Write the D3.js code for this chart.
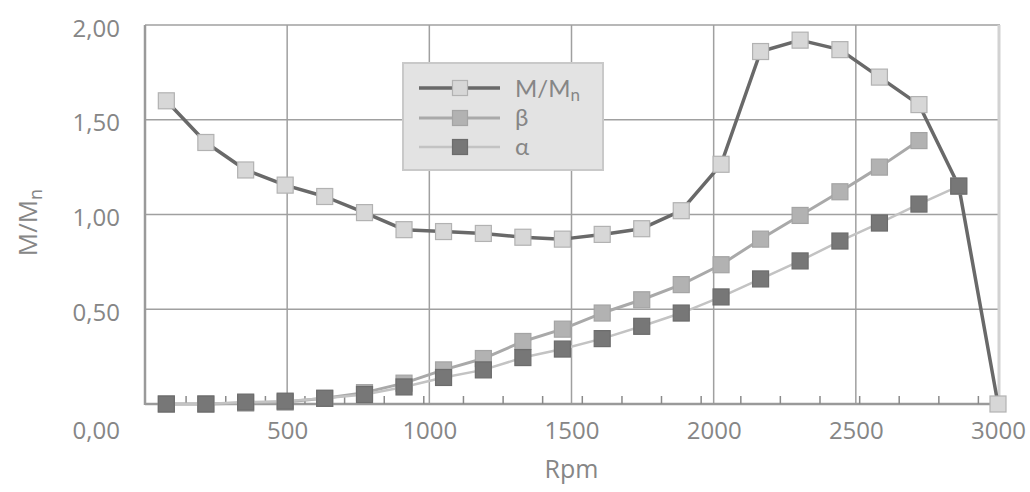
<!DOCTYPE html>
<html>
<head>
<meta charset="utf-8">
<script src="https://cdn.jsdelivr.net/npm/d3@7"></script>
<style>
  html, body { margin: 0; padding: 0; background: #ffffff; }
  svg { display: block; font-family: "Open Sans", "DejaVu Sans", sans-serif; }
</style>
</head>
<body>
<svg id="chart" width="1030" height="492"></svg>
<script>
// Speed points (rpm) shared by all three curves
const rpm = [75, 214, 354, 493, 632, 772, 911, 1050, 1190, 1329, 1468, 1608,
             1747, 1886, 2026, 2165, 2304, 2444, 2583, 2722, 2862, 3000];

// Relative torque M/Mn
const torque = [1.60, 1.38, 1.235, 1.155, 1.095, 1.01, 0.92, 0.91, 0.90, 0.88, 0.87, 0.895,
                0.925, 1.02, 1.265, 1.86, 1.92, 1.87, 1.725, 1.58, 1.15, 0.00];

// β curve (ends at 2722 rpm)
const beta = [0.00, 0.00, 0.005, 0.01, 0.03, 0.06, 0.11, 0.18, 0.24, 0.33, 0.395, 0.48,
              0.55, 0.63, 0.735, 0.87, 0.995, 1.12, 1.25, 1.39];

// α curve (ends at 2862 rpm)
const alpha = [0.00, 0.00, 0.01, 0.015, 0.03, 0.05, 0.09, 0.14, 0.18, 0.245, 0.29, 0.345,
               0.41, 0.48, 0.565, 0.66, 0.755, 0.86, 0.955, 1.055, 1.15];

const xTicks = [500, 1000, 1500, 2000, 2500, 3000];
const yTicks = [0, 0.5, 1, 1.5, 2];

const svg = d3.select("#chart");
const plotLeft = 145, plotRight = 998, plotTop = 25, plotBottom = 404;

const x = d3.scaleLinear().domain([0, 3000]).range([plotLeft, plotRight]);
const y = d3.scaleLinear().domain([0, 2]).range([plotBottom, plotTop]);

const deFmt = d3.formatLocale({ decimal: ",", thousands: ".", grouping: [3], currency: ["", " €"] }).format(".2f");

const textCol = "#868686";

// Grid
const grid = svg.append("g");
grid.selectAll("line.h").data(yTicks.filter(v => v > 0)).join("line")
  .attr("x1", plotLeft).attr("x2", plotRight + 2)
  .attr("y1", d => y(d)).attr("y2", d => y(d))
  .attr("stroke", "#a0a0a0").attr("stroke-width", 1.5);
grid.selectAll("line.v").data(xTicks.filter(v => v < 3000)).join("line")
  .attr("x1", d => x(d)).attr("x2", d => x(d))
  .attr("y1", plotTop).attr("y2", plotBottom)
  .attr("stroke", "#a0a0a0").attr("stroke-width", 1.5);
// right border of the plot area
grid.append("line")
  .attr("x1", x(3000) + 1).attr("x2", x(3000) + 1)
  .attr("y1", plotTop).attr("y2", plotBottom)
  .attr("stroke", "#d2d2d2").attr("stroke-width", 3);

// Axis lines
svg.append("line").attr("x1", plotLeft).attr("x2", plotLeft).attr("y1", plotTop).attr("y2", plotBottom + 1)
  .attr("stroke", "#9a9a9a").attr("stroke-width", 2.5);
svg.append("line").attr("x1", plotLeft).attr("x2", plotRight).attr("y1", plotBottom).attr("y2", plotBottom)
  .attr("stroke", "#9a9a9a").attr("stroke-width", 2.5);

// Minor ticks between neighbouring speed points
const mids = d3.pairs(rpm).map(([a, b]) => (a + b) / 2);
svg.append("g").selectAll("line").data(mids).join("line")
  .attr("x1", d => x(d)).attr("x2", d => x(d))
  .attr("y1", plotBottom).attr("y2", plotBottom - 8)
  .attr("stroke", "#8a8a8a").attr("stroke-width", 1.5);

// X axis labels
const xAxis = svg.append("g").attr("transform", `translate(0,${plotBottom})`)
  .call(d3.axisBottom(x).tickValues(xTicks).tickSize(0).tickFormat(d3.format("d")));
xAxis.select(".domain").remove();
xAxis.selectAll("text").attr("y", 35).attr("dy", 0)
  .attr("font-size", 24).attr("fill", textCol).attr("font-family", "Open Sans");

// Y axis labels
const yAxis = svg.append("g").attr("transform", `translate(${plotLeft},0)`)
  .call(d3.axisLeft(y).tickValues(yTicks).tickSize(0).tickFormat(deFmt));
yAxis.select(".domain").remove();
yAxis.selectAll("text")
  .attr("x", -25).attr("dy", 0)
  .attr("y", d => d === 0 ? 34 : 11)
  .attr("font-size", 24).attr("fill", textCol).attr("font-family", "Open Sans");

// Axis titles
svg.append("text").attr("x", (plotLeft + plotRight) / 2).attr("y", 478)
  .attr("text-anchor", "middle").attr("font-size", 25).attr("fill", textCol)
  .text("Rpm");

const yTitle = svg.append("text")
  .attr("transform", `translate(37,${(plotTop + plotBottom) / 2 + 8}) rotate(-90)`)
  .attr("text-anchor", "middle").attr("font-size", 26).attr("fill", textCol);
yTitle.append("tspan").text("M/M");
yTitle.append("tspan").attr("font-size", 18).attr("dy", 5).text("n");

// Series
const series = [
  { name: "torque", vals: torque, line: "#696969", lw: 3.5, fill: "#d7d7d7", stroke: "#b2b2b2" },
  { name: "beta",   vals: beta,   line: "#a9a9a9", lw: 3,   fill: "#b2b2b2", stroke: "#a4a4a4" },
  { name: "alpha",  vals: alpha,  line: "#c3c3c3", lw: 2.5, fill: "#777777", stroke: "#6c6c6c" }
];

const lineGen = d3.line().x(d => x(d[0])).y(d => y(d[1]));
const ms = 16;

series.forEach(s => {
  const pts = s.vals.map((v, i) => [rpm[i], v]);
  const g = svg.append("g").attr("class", s.name);
  g.append("path").datum(pts).attr("d", lineGen)
    .attr("fill", "none").attr("stroke", s.line).attr("stroke-width", s.lw)
    .attr("stroke-linejoin", "round");
  g.selectAll("rect").data(pts).join("rect")
    .attr("x", d => x(d[0]) - ms / 2).attr("y", d => y(d[1]) - ms / 2)
    .attr("width", ms).attr("height", ms)
    .attr("fill", s.fill).attr("stroke", s.stroke).attr("stroke-width", 1.2);
});

// Legend
const lg = svg.append("g");
lg.append("rect").attr("x", 403).attr("y", 63).attr("width", 200).attr("height", 107)
  .attr("fill", "#e3e3e3").attr("stroke", "#c9c9c9").attr("stroke-width", 2);
const rows = [88, 118, 147];
series.forEach((s, i) => {
  const ry = rows[i];
  lg.append("line").attr("x1", 419).attr("x2", 500).attr("y1", ry).attr("y2", ry)
    .attr("stroke", s.line).attr("stroke-width", s.lw);
  lg.append("rect").attr("x", 460 - 7.5).attr("y", ry - 7.5).attr("width", 15).attr("height", 15)
    .attr("fill", s.fill).attr("stroke", s.stroke).attr("stroke-width", 1.2);
});
const legendFont = "Lato";
const t0 = lg.append("text").attr("x", 515).attr("y", rows[0] + 9)
  .attr("font-family", legendFont).attr("font-size", 24).attr("fill", textCol);
t0.append("tspan").text("M/M");
t0.append("tspan").attr("font-size", 17).attr("dy", 4).text("n");
lg.append("text").attr("x", 515).attr("y", rows[1] + 8).attr("font-family", legendFont)
  .attr("font-size", 24).attr("fill", textCol).text("β");
lg.append("text").attr("x", 515).attr("y", rows[2] + 8).attr("font-family", legendFont)
  .attr("font-size", 24).attr("fill", textCol).text("α");
</script>
</body>
</html>
